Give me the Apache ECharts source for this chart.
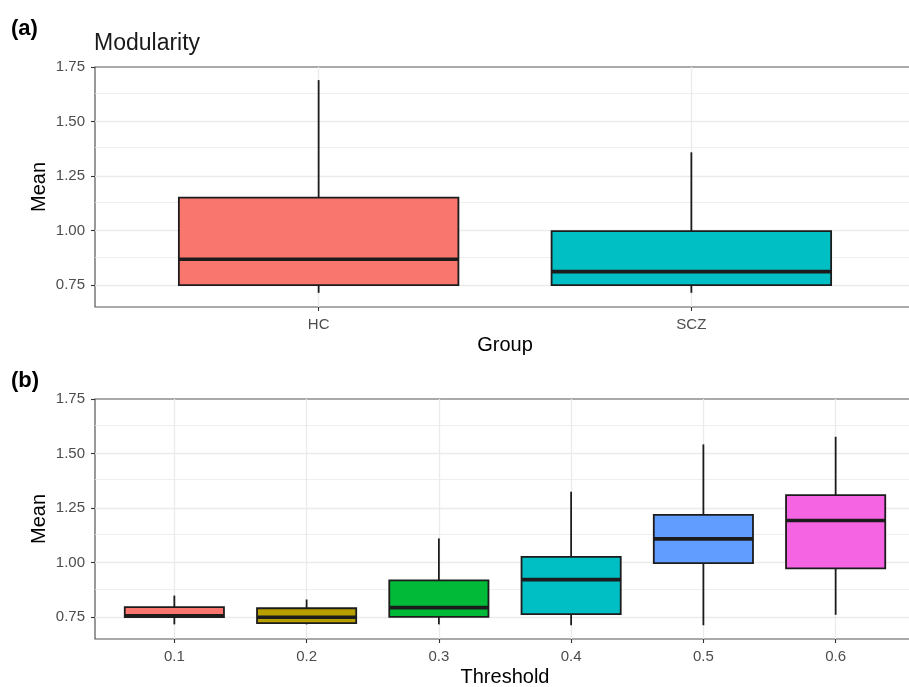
<!DOCTYPE html>
<html>
<head>
<meta charset="utf-8">
<script src="https://cdn.jsdelivr.net/npm/echarts@6/dist/echarts.min.js"></script>
<style>
  html, body { margin: 0; padding: 0; background: #ffffff; }
  #chart { width: 909px; height: 687px; }
</style>
</head>
<body>
<div id="chart"></div>
<script>
// Panel (a): modularity by group, five-number summaries
const groups = ['HC', 'SCZ'];
const groupLow = [0.715, 0.715];
const groupQ1 = [0.750, 0.750];
const groupMedian = [0.869, 0.812];
const groupQ3 = [1.151, 0.998];
const groupHigh = [1.690, 1.359];
const groupColors = ['#F8766D', '#00BFC4'];

// Panel (b): modularity by threshold
const thresholds = ['0.1', '0.2', '0.3', '0.4', '0.5', '0.6'];
const thrLow = [0.717, 0.717, 0.717, 0.713, 0.713, 0.761];
const thrQ1 = [0.750, 0.723, 0.751, 0.764, 0.998, 0.974];
const thrMedian = [0.756, 0.750, 0.794, 0.922, 1.109, 1.193];
const thrQ3 = [0.796, 0.791, 0.919, 1.026, 1.219, 1.309];
const thrHigh = [0.849, 0.831, 1.111, 1.325, 1.542, 1.577];
const thrColors = ['#F8766D', '#B79F00', '#00BA38', '#00BFC4', '#619CFF', '#F564E3'];

// Shared y scale
const yTicks = [0.75, 1.00, 1.25, 1.50, 1.75];
const yMinorTicks = [0.875, 1.125, 1.375, 1.625];
const Y_MIN = 0.65;
const Y_MAX = 1.75;

const FONT = '"Liberation Sans", Arial, Helvetica, sans-serif';
const BOX_HALF = 0.375;     // box width 0.75 of category spacing
const EDGE = '#1c1c1c';
const GRID_COLOR = '#EBEBEB';
const FRAME_COLOR = '#555555';
const PANEL_LEFT = 95;
const PANEL_WIDTH = 820;    // runs slightly past the right edge of the canvas
const PANEL_HEIGHT = 240;

function boxRows(low, q1, med, q3, high) {
  return low.map((_, i) => [i + 1, low[i], q1[i], med[i], q3[i], high[i]]);
}

function makeRender(colors) {
  return function (params, api) {
    const x = api.value(0);
    const lo = api.value(1), q1 = api.value(2), md = api.value(3), q3 = api.value(4), hi = api.value(5);
    const pHi = api.coord([x, hi]);
    const pLo = api.coord([x, lo]);
    const pQ3 = api.coord([x - BOX_HALF, q3]);
    const pQ1 = api.coord([x + BOX_HALF, q1]);
    const pMdL = api.coord([x - BOX_HALF, md]);
    const pMdR = api.coord([x + BOX_HALF, md]);
    return {
      type: 'group',
      children: [
        { type: 'line', shape: { x1: pHi[0], y1: pHi[1], x2: pHi[0], y2: pQ3[1] },
          style: { stroke: EDGE, lineWidth: 1.8 } },
        { type: 'line', shape: { x1: pLo[0], y1: pQ1[1], x2: pLo[0], y2: pLo[1] },
          style: { stroke: EDGE, lineWidth: 1.8 } },
        { type: 'rect', shape: { x: pQ3[0], y: pQ3[1], width: pQ1[0] - pQ3[0], height: pQ1[1] - pQ3[1] },
          style: { fill: colors[params.dataIndex], stroke: EDGE, lineWidth: 1.8 } },
        { type: 'line', shape: { x1: pMdL[0], y1: pMdL[1], x2: pMdR[0], y2: pMdR[1] },
          style: { stroke: EDGE, lineWidth: 3.6 } }
      ]
    };
  };
}

function xAxisFor(gridIndex, labels, name) {
  const pos = labels.map((_, i) => i + 1);
  return {
    type: 'value', gridIndex: gridIndex,
    min: 0.4, max: labels.length + 0.6,
    name: name, nameLocation: 'middle', nameGap: 28,
    nameTextStyle: { fontSize: 20, color: '#000000', fontFamily: FONT },
    axisLine: { show: false, onZero: false },
    axisTick: { show: true, customValues: pos, length: 4, lineStyle: { color: '#333333', width: 1.1 } },
    axisLabel: { customValues: pos, formatter: v => labels[Math.round(v) - 1],
      color: '#4D4D4D', fontSize: 15, margin: 10, fontFamily: FONT },
    splitLine: { show: false }
  };
}

function yAxisFor(gridIndex) {
  return {
    type: 'value', gridIndex: gridIndex,
    min: Y_MIN, max: Y_MAX,
    name: 'Mean', nameLocation: 'middle', nameGap: 46, nameMoveOverlap: false,
    nameTextStyle: { fontSize: 20, color: '#000000', fontFamily: FONT },
    axisLine: { show: false, onZero: false },
    axisTick: { show: true, customValues: yTicks, length: 4, lineStyle: { color: '#333333', width: 1.1 } },
    axisLabel: { customValues: yTicks, formatter: v => v.toFixed(2),
      color: '#4D4D4D', fontSize: 15, margin: 10, fontFamily: FONT },
    splitLine: { show: false }
  };
}

// Background grid lines (major + minor), kept beneath the boxes
function gridLines(gridIndex, count) {
  const data = [];
  yTicks.filter(v => v < Y_MAX).forEach(v => data.push({ yAxis: v, lineStyle: { width: 1.3 } }));
  yMinorTicks.forEach(v => data.push({ yAxis: v, lineStyle: { width: 0.8 } }));
  for (let i = 1; i <= count; i++) data.push({ xAxis: i, lineStyle: { width: 1.3 } });
  return {
    type: 'line', xAxisIndex: gridIndex, yAxisIndex: gridIndex,
    data: [], z: 1, silent: true,
    markLine: {
      z: 1, silent: true, symbol: ['none', 'none'], label: { show: false }, animation: false,
      lineStyle: { color: GRID_COLOR, type: 'solid' },
      emphasis: { disabled: true },
      data: data
    }
  };
}

function panelGrid(top) {
  return {
    left: PANEL_LEFT, width: PANEL_WIDTH, top: top, height: PANEL_HEIGHT,
    containLabel: false, outerBoundsMode: 'none',
    show: true, borderColor: FRAME_COLOR, borderWidth: 1.2, backgroundColor: 'transparent'
  };
}

const chart = echarts.init(document.getElementById('chart'), null, { renderer: 'canvas' });
chart.setOption({
  animation: false,
  backgroundColor: '#ffffff',
  title: [
    { text: '(a)', left: 11, top: 18, padding: 0,
      textStyle: { fontSize: 22, fontWeight: 'bold', color: '#000000', fontFamily: FONT } },
    { text: 'Modularity', left: 94, top: 32, padding: 0,
      textStyle: { fontSize: 23, fontWeight: 'normal', color: '#1a1a1a', fontFamily: FONT } },
    { text: '(b)', left: 11, top: 370, padding: 0,
      textStyle: { fontSize: 22, fontWeight: 'bold', color: '#000000', fontFamily: FONT } }
  ],
  grid: [panelGrid(67), panelGrid(399)],
  xAxis: [xAxisFor(0, groups, 'Group'), xAxisFor(1, thresholds, 'Threshold')],
  yAxis: [yAxisFor(0), yAxisFor(1)],
  series: [
    gridLines(0, groups.length),
    gridLines(1, thresholds.length),
    {
      type: 'custom', xAxisIndex: 0, yAxisIndex: 0, z: 3,
      renderItem: makeRender(groupColors),
      encode: { x: 0, y: [1, 2, 3, 4, 5] },
      data: boxRows(groupLow, groupQ1, groupMedian, groupQ3, groupHigh)
    },
    {
      type: 'custom', xAxisIndex: 1, yAxisIndex: 1, z: 3,
      renderItem: makeRender(thrColors),
      encode: { x: 0, y: [1, 2, 3, 4, 5] },
      data: boxRows(thrLow, thrQ1, thrMedian, thrQ3, thrHigh)
    }
  ]
});
</script>
</body>
</html>
